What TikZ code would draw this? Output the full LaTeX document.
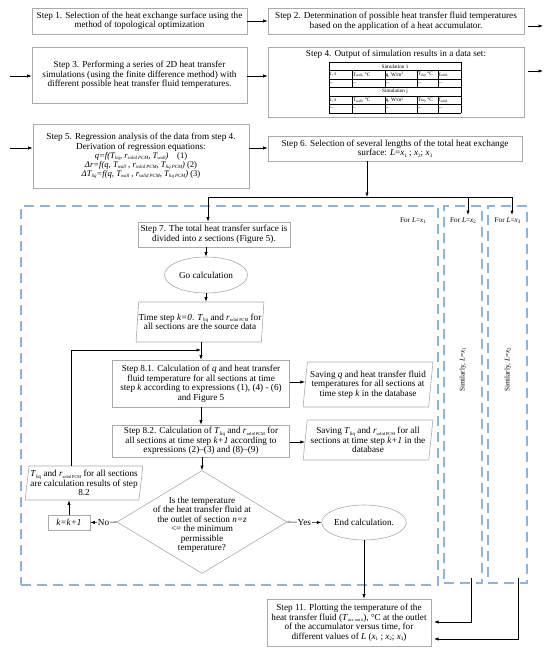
\documentclass[tikz,border=0pt]{standalone}
\usepackage{fontspec}
\setmainfont{Liberation Serif}
\usetikzlibrary{shapes.geometric,arrows.meta,calc}
\definecolor{boxgray}{RGB}{170,170,170}
\definecolor{dblue}{RGB}{141,179,226}
\newcommand\stepfnt{\fontsize{9.2}{9.5}\selectfont}
\newcommand\eqfnt{\fontsize{8.6}{8.6}\selectfont}
\newcommand\smfnt{\fontsize{7.2}{7.5}\selectfont}
\newcommand\tabfnt{\fontsize{5.2}{5.5}\selectfont}
\newcommand\mysub[1]{\raisebox{-0.35ex}{\fontsize{5}{5}\selectfont #1}}
\newcommand\tinysub[1]{\raisebox{-0.35ex}{\fontsize{4.3}{4.3}\selectfont #1}}
\newcommand\eqsub[1]{\raisebox{-0.35ex}{\fontsize{4.8}{4.8}\selectfont #1}}
\newcommand\Tliq{\textit{T}\mysub{liq}}
\newcommand\rsol{\textit{r}\tinysub{solid PCM}}
\newcommand\itx[1]{\textit{x}\mysub{#1}}
\begin{document}
\begin{tikzpicture}[x=1pt,y=-1pt,
  box/.style={draw=boxgray, line width=0.6pt, align=center, inner sep=1pt, font=\stepfnt},
  para/.style={box, trapezium, trapezium left angle=82, trapezium right angle=98, trapezium stretches=true, inner xsep=0pt},
  oval/.style={box, ellipse, inner sep=0pt},
  arr/.style={-{Latex[length=4.5pt,width=3.2pt]}, line width=0.6pt},
  ln/.style={line width=0.6pt},
  dbox/.style={draw=dblue, dash pattern=on 10pt off 6pt, line width=1.1pt, inner sep=0pt},
  lbl/.style={font=\smfnt, inner sep=1pt},
  cell/.style={font=\tabfnt, inner sep=0.6pt, anchor=west},
  tl/.style={line width=0.4pt}]
\useasboundingbox (0,0) rectangle (550,650);
\fill[white] (0,0) rectangle (550,650);

% dashed boxes
\node[dbox, minimum width=417, minimum height=379] (L1) at (229.5,395.5) {};
\node[dbox, minimum width=38, minimum height=377] (L2) at (463,394.5) {};
\node[dbox, minimum width=39, minimum height=377] (L3) at (507.5,394.5) {};
\node[lbl, anchor=east] (fl1) at (427,221) {For \textit{L}=\itx{1}};
\node[lbl] (fl2) at (463,221) {For \textit{L}=\itx{2}};
\node[lbl] (fl3) at (507.5,221) {For \textit{L}=\itx{3}};
\node[lbl, rotate=90] (sim1) at (463,370) {Similarly, \textit{L}=\itx{1}};
\node[lbl, rotate=90] (sim2) at (508,370) {Similarly, \textit{L}=\itx{2}};

% top steps
\node[box, minimum width=215, minimum height=26] (s1) at (139.5,21)
  {Step 1. Selection of the heat exchange surface using the\\ method of topological optimization};
\node[box, minimum width=256, minimum height=26] (s2) at (396,21)
  {Step 2. Determination of possible heat transfer fluid temperatures\\ based on the application of a heat accumulator.};
\node[box, minimum width=215, minimum height=56] (s3) at (139.5,75)
  {Step 3. Performing a series of 2D heat transfer\\ simulations (using the finite difference method) with\\ different possible heat transfer fluid temperatures.};
\node[box, minimum width=256, minimum height=70] (s4) at (396,82) {};
\node[font=\stepfnt, inner sep=0pt] (s4t) at (396,54) {Step 4. Output of simulation results in a data set:};

% table
\foreach \y in {62,70.5,79,87.5,96,104.5,113} \draw[tl] (329,\y) -- (461,\y);
\draw[tl] (329,62) -- (329,113) (461,62) -- (461,113);
\foreach \x in {352,385,417,438} \draw[tl] (\x,70.5) -- (\x,87.5) (\x,96) -- (\x,113);
\node[font=\tabfnt, inner sep=0pt] (sim1t) at (395,66.25) {Simulation 1};
\node[font=\tabfnt, inner sep=0pt] (simjt) at (395,91.75) {Simulation j};
\foreach \r/\y in {a/74.75,b/100.25}{
  \node[cell] (c1\r) at (329,\y) {τ, s};
  \node[cell] (c2\r) at (352,\y) {T\raisebox{-0.3ex}{\fontsize{3.6}{3.6}\selectfont wall}, °C};
  \node[cell] (c3\r) at (385,\y) {q, W/m\raisebox{0.6ex}{\fontsize{3.6}{3.6}\selectfont 2}};
  \node[cell] (c4\r) at (417,\y) {T\raisebox{-0.3ex}{\fontsize{3.6}{3.6}\selectfont liq}, °C};
  \node[cell] (c5\r) at (438,\y) {f\raisebox{-0.3ex}{\fontsize{3.6}{3.6}\selectfont solid}};
}
\foreach \r/\y in {a/83.25,b/108.75}{
  \foreach \x/\i in {329/1,352/2,385/3,417/4,438/5}
    \node[cell] (d\i\r) at (\x,\y) {...};
}

\node[box, minimum width=216, minimum height=64] (s5) at (141,156)
  {Step 5. Regression analysis of the data from step 4.\\ Derivation of regression equations:\\[-0.5pt]
   {\eqfnt\itshape q=f(T\eqsub{liq}, r\eqsub{solid PCM}, T\eqsub{wall})\quad\upshape (1)}\\[-0.5pt]
   {\eqfnt\itshape Δr=f(q, T\eqsub{wall} , r\eqsub{solid PCM}, T\eqsub{liq PCM}) \upshape(2)}\\[-0.5pt]
   {\eqfnt\itshape ΔT\eqsub{liq}=f(q, T\eqsub{wall} , r\eqsub{solid PCM}, T\eqsub{liq PCM}) \upshape(3)}};
\node[box, minimum width=254, minimum height=25] (s6) at (395,148.5)
  {Step 6. Selection of several lengths of the total heat exchange\\ surface: \textit{L}=\itx{1} ; \itx{2}; \itx{3}};

% free arrows
\coordinate (i3) at (10,76);
\coordinate (i5) at (10,148);
\coordinate (o2a) at (528,26);
\coordinate (o2b) at (543,26);
\coordinate (o4a) at (528,71);
\coordinate (o4b) at (543,71);
\draw[arr] (i3) -- (s3.west |- i3);
\draw[arr] (i5) -- (s5.west |- i5);
\draw[arr] (o2a) -- (o2b);
\draw[arr] (o4a) -- (o4b);
\draw[arr] (s1.east) -- (s2.west |- s1.east);
\draw[arr] (s3.east |- i3) -- (s4.west |- i3);
\draw[arr] (s5.east |- i5) -- (s6.west |- i5);

% distribution
\coordinate (j0) at (367,197);
\coordinate (j1) at (208,197);
\coordinate (j2) at (468,197);
\coordinate (j3) at (512,197);
\coordinate (t2) at (468,215);
\coordinate (t3) at (512,215);
\draw[arr] (s6.south -| j0) -- (j0);
\draw[ln] (j1) -- (j3);
\draw[arr] (j2) -- (t2);
\draw[arr] (j3) -- (t3);

% inner flow
\node[box, minimum width=152, minimum height=25] (s7) at (214,234.5)
  {Step 7. The total heat transfer surface is\\ divided into \textit{z} sections (Figure 5).};
\draw[arr] (j1) -- (j1 |- s7.north);
\node[oval, minimum width=83, minimum height=36] (go) at (206,275) {Go calculation};
\draw[arr] (go.north |- s7.south) -- (go.north);
\node[para, minimum width=125, minimum height=40] (ts) at (200,322)
  {Time step \textit{k=0}. \Tliq\ and \rsol\ for\\ all sections are the source data};
\draw[arr] (go.south) -- (go.south |- ts.north);
\node[box, minimum width=177, minimum height=47] (s81) at (201,383.5)
  {Step 8.1. Calculation of \textit{q} and heat transfer\\ fluid temperature for all sections at time\\ step \textit{k} according to expressions (1), (4) - (6)\\ and Figure 5};
\draw[arr] (s81.north |- ts.south) -- (s81.north);
\node[para, minimum width=130, minimum height=45] (sv1) at (368,384.5)
  {Saving \textit{q} and heat transfer fluid\\ temperatures for all sections at\\ time step \textit{k} in the database};
\draw[arr] (s81.east |- 0,382) -- (sv1.west |- 0,382);
\node[box, minimum width=177, minimum height=32] (s82) at (201,441)
  {Step 8.2. Calculation of \Tliq\ and \rsol\ for\\ all sections at time step \textit{k+1} according to\\ expressions (2)–(3) and (8)–(9)};
\draw[arr] (s81.south) -- (s82.north);
\node[para, minimum width=130, minimum height=40] (sv2) at (368,440)
  {Saving \Tliq\ and \rsol\ for all\\ sections at time step \textit{k+1} in the\\ database};
\draw[arr] (s82.east |- 0,442) -- (sv2.west |- 0,442);

\node[diamond, draw=boxgray, line width=0.6pt, minimum width=170, minimum height=103, inner sep=0pt] (dia) at (202,522) {};
\node[font=\stepfnt, align=center, inner sep=0pt] (diat) at (202,525)
  {Is the temperature\\ of the heat transfer fluid at\\ the outlet of section \textit{n=z}\\ <= the minimum\\ permissible\\ temperature?};
\draw[arr] (s82.south -| dia.north) -- (dia.north);

\node[box, minimum width=42, minimum height=15] (kk) at (69,522.5) {\textit{k=k+1}};
\draw[arr] (dia.west) -- node[fill=white, inner sep=1pt, font=\stepfnt] (no) {No} (kk.east);
\node[para, minimum width=118, minimum height=34] (tl) at (84,483)
  {\Tliq\ and \rsol\ for all sections\\ are calculation results of step\\ 8.2};
\draw[arr] (kk.north) -- (kk.north |- tl.south);
\coordinate (lp) at (71,350);
\draw[arr] (lp |- tl.north) -- (lp) -- (lp -| s81.north);

\node[oval, minimum width=82, minimum height=35] (end) at (364,522.5) {End calculation.};
\draw[arr] (dia.east) -- node[fill=white, inner sep=1pt, font=\stepfnt] (yes) {Yes} (end.west);

\node[box, minimum width=164, minimum height=47] (s11) at (349,622.5)
  {Step 11. Plotting the temperature of the\\ heat transfer fluid (\textit{T}\tinysub{\itshape acc out k}), °C at the outlet\\ of the accumulator versus time, for\\ different values of \textit{L} (\itx{1} ; \itx{2}; \itx{3})};
\draw[arr] (end.south) -- (end.south |- s11.north);

\coordinate (c2) at (471,578);
\coordinate (c3) at (518,578);
\coordinate (e2) at (434,622);
\coordinate (e3) at (434,639);
\draw[arr] (c2) |- (e2);
\draw[arr] (c3) |- (e3);
\end{tikzpicture}
\end{document}
